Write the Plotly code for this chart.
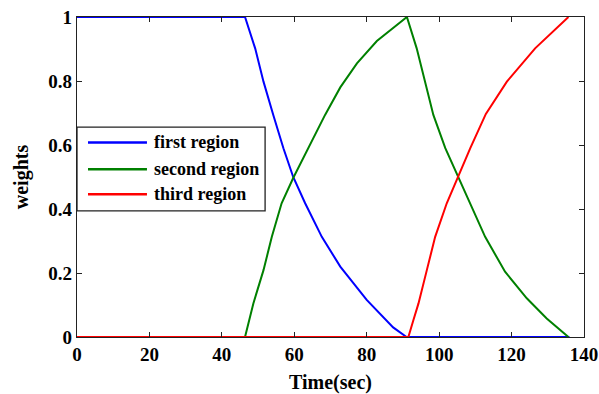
import plotly.graph_objects as go

# Data
t_first = [0, 46.4, 49.2, 51.5, 54.2, 57.0, 59.7, 63.0, 67.6, 72.7, 80.0, 87.3, 91.0, 136.0]
w_first = [1, 1, 0.902, 0.798, 0.694, 0.590, 0.500, 0.418, 0.313, 0.220, 0.116, 0.030, 0, 0]

t_second = [0, 46.4, 48.7, 51.5, 53.8, 56.5, 59.7, 64.5, 68.5, 72.7, 77.3, 82.8, 91.1,
            93.8, 96.1, 98.4, 101.7, 105.3, 108.6, 112.7, 118.2, 124.2, 129.7, 135.7]
w_second = [0, 0, 0.105, 0.209, 0.313, 0.418, 0.497, 0.605, 0.694, 0.780, 0.855, 0.925, 1.0,
            0.902, 0.798, 0.694, 0.590, 0.500, 0.418, 0.313, 0.204, 0.121, 0.058, 0]

t_third = [0, 91.5, 92.9, 94.3, 96.6, 98.9, 102.1, 105.1, 108.6, 112.9, 118.7, 126.5, 135.7]
w_third = [0, 0, 0.053, 0.105, 0.209, 0.313, 0.418, 0.500, 0.590, 0.697, 0.798, 0.902, 1.0]

series_names = ["first region", "second region", "third region"]
series_colors = ["#0000FF", "#008000", "#FF0000"]

x_ticks = [0, 20, 40, 60, 80, 100, 120, 140]
y_ticks = [0, 0.2, 0.4, 0.6, 0.8, 1]
y_tick_labels = ["0", "0.2", "0.4", "0.6", "0.8", "1"]

FONT = "Liberation Serif"

fig = go.Figure()
for t, w, name, col in zip([t_first, t_second, t_third], [w_first, w_second, w_third],
                           series_names, series_colors):
    fig.add_trace(go.Scatter(x=t, y=w, mode="lines", name=name,
                             line=dict(color=col, width=2), showlegend=False))

axis_common = dict(showline=True, linecolor="#222", linewidth=1.3, mirror="ticks",
                   ticks="inside", ticklen=5, tickcolor="#222", tickwidth=1,
                   showgrid=False, zeroline=False, automargin=False,
                   tickfont=dict(family=FONT, size=19, color="black"))

fig.update_xaxes(range=[0, 140], tickvals=x_ticks,
                 ticktext=["<b>%d</b>" % v for v in x_ticks],
                 title=dict(text="<b>Time(sec)</b>", font=dict(family=FONT, size=20, color="black"),
                            standoff=11),
                 **axis_common)
fig.update_yaxes(range=[0, 1], tickvals=y_ticks, ticktext=["<b>%s</b>" % s for s in y_tick_labels],
                 title=dict(text="<b>weights</b>", font=dict(family=FONT, size=20, color="black"),
                            standoff=14),
                 **axis_common)

# Manual legend (box, line samples, labels) in paper coordinates
fig.add_shape(type="rect", xref="paper", yref="paper", x0=0, x1=0.371, y0=0.394, y1=0.656,
              line=dict(color="#222", width=1.3), fillcolor="white", layer="above")
rows_y = [0.608, 0.524, 0.446]
for yy, name, col in zip(rows_y, series_names, series_colors):
    fig.add_shape(type="line", xref="paper", yref="paper", x0=0.0217, x1=0.138, y0=yy, y1=yy,
                  line=dict(color=col, width=2.5), layer="above")
    fig.add_annotation(xref="paper", yref="paper", x=0.148, y=yy, xanchor="left", yanchor="middle",
                       text="<b>%s</b>" % name, showarrow=False,
                       font=dict(family=FONT, size=18, color="black"))

fig.update_layout(width=599, height=394, margin=dict(l=77, r=15, t=17, b=57),
                  paper_bgcolor="white", plot_bgcolor="white")

fig.write_html("out.html")
